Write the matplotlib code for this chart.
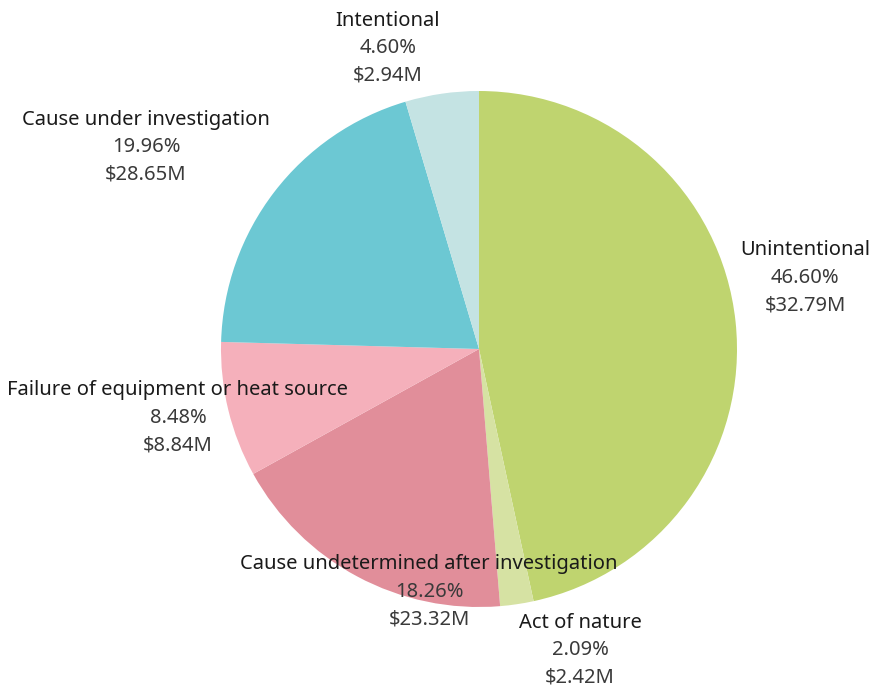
import matplotlib
matplotlib.use('Agg')
import matplotlib.pyplot as plt

plt.rc('font', family=['Noto Sans', 'DejaVu Sans'], size=14)

causes = ['Unintentional', 'Act of nature', 'Cause undetermined after investigation',
          'Failure of equipment or heat source', 'Cause under investigation', 'Intentional']
shares = [46.60, 2.09, 18.26, 8.48, 19.96, 4.60]
losses = ['$32.79M', '$2.42M', '$23.32M', '$8.84M', '$28.65M', '$2.94M']
colors = ['#bfd46f', '#d6e2a3', '#e18e9a', '#f5b0bb', '#6cc8d3', '#c4e3e3']

# label anchors (pixels, middle line), picked to match tableau's placement
label_pos = [(805, 409), (580, 37), (429, 95), (178, 269), (146, 540), (388, 639)]

W, H = 870, 687
fig = plt.figure(figsize=(W / 100, H / 100), dpi=100)
ax = fig.add_axes([0, 0, 1, 1])

ax.pie(shares, colors=colors, startangle=90, counterclock=False,
       center=(479, H - 349), radius=258, frame=True,
       wedgeprops=dict(linewidth=0))
ax.set_xlim(0, W)
ax.set_ylim(0, H)
ax.set_aspect('equal')
ax.axis('off')

step = 27.5
fs = 14.5
for name, pct, loss, (x, y) in zip(causes, shares, losses, label_pos):
    ax.text(x, y + step, name, ha='center', va='center', color='#1a1a1a',
            fontweight='medium', fontsize=fs)
    ax.text(x, y, f'{pct:.2f}%', ha='center', va='center', color='#3a3a3a',
            fontsize=fs)
    ax.text(x, y - step, loss, ha='center', va='center', color='#3a3a3a',
            fontsize=fs)

fig.savefig('out.png', dpi=100)
